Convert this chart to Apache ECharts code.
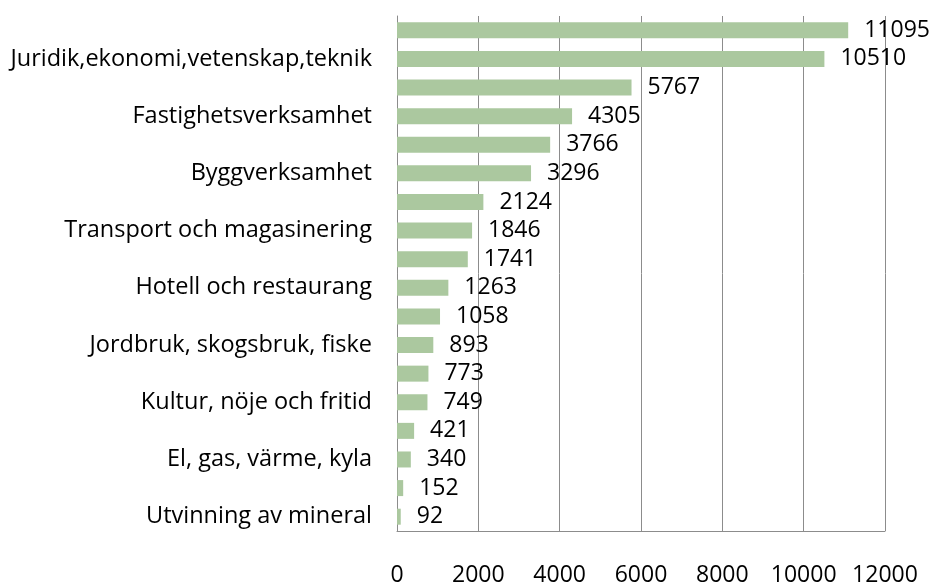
<!DOCTYPE html>
<html>
<head>
<meta charset="utf-8">
<script src="https://cdn.jsdelivr.net/npm/echarts@6/dist/echarts.min.js"></script>
<style>
  html, body { margin: 0; padding: 0; background: #fff; }
  #chart { width: 934px; height: 587px; }
</style>
</head>
<body>
<div id="chart"></div>
<script>
// bottom to top, every other label shown as in the original
var categories = [
  'Utvinning av mineral',
  'Vattenförsörjning, avfall',
  'El, gas, värme, kyla',
  'Finans och försäkring',
  'Kultur, nöje och fritid',
  'Annan serviceverksamhet',
  'Jordbruk, skogsbruk, fiske',
  'Information och kommunikation',
  'Hotell och restaurang',
  'Utbildning',
  'Transport och magasinering',
  'Vård och omsorg',
  'Byggverksamhet',
  'Tillverkning',
  'Fastighetsverksamhet',
  'Uthyrning, fastighetsservice',
  'Juridik,ekonomi,vetenskap,teknik',
  'Handel'
];
var values = [92, 152, 340, 421, 749, 773, 893, 1058, 1263, 1741, 1846, 2124, 3296, 3766, 4305, 5767, 10510, 11095];
var xTicks = [0, 2000, 4000, 6000, 8000, 10000, 12000];

var font = '"Open Sans", sans-serif';
var gray = '#8c8c8c';

var chart = echarts.init(document.getElementById('chart'));
chart.setOption({
  animation: false,
  grid: { left: 397, right: 49, top: 16, bottom: 53, containLabel: false },
  xAxis: {
    type: 'value',
    min: xTicks[0],
    max: xTicks[xTicks.length - 1],
    interval: 2000,
    axisLine: { show: true, lineStyle: { color: gray, width: 1 } },
    axisTick: { show: false },
    axisLabel: {
      color: '#000', fontSize: 23, fontFamily: font, margin: 33,
      formatter: function (v) { return String(v); }
    },
    splitLine: { show: true, lineStyle: { color: gray, width: 1 } }
  },
  yAxis: {
    type: 'category',
    data: categories,
    axisLine: { show: true, lineStyle: { color: gray, width: 1 } },
    axisTick: { show: false },
    axisLabel: {
      color: '#000', fontSize: 23.5, fontFamily: font, margin: 25,
      interval: function (i) { return i % 2 === 0; }
    },
    splitLine: { show: false }
  },
  series: [{
    type: 'bar',
    data: values,
    barWidth: 16,
    itemStyle: { color: '#abc89f' },
    label: {
      show: true,
      position: 'right',
      distance: 16,
      color: '#000',
      fontSize: 23,
      fontFamily: font
    }
  }]
});
</script>
</body>
</html>
